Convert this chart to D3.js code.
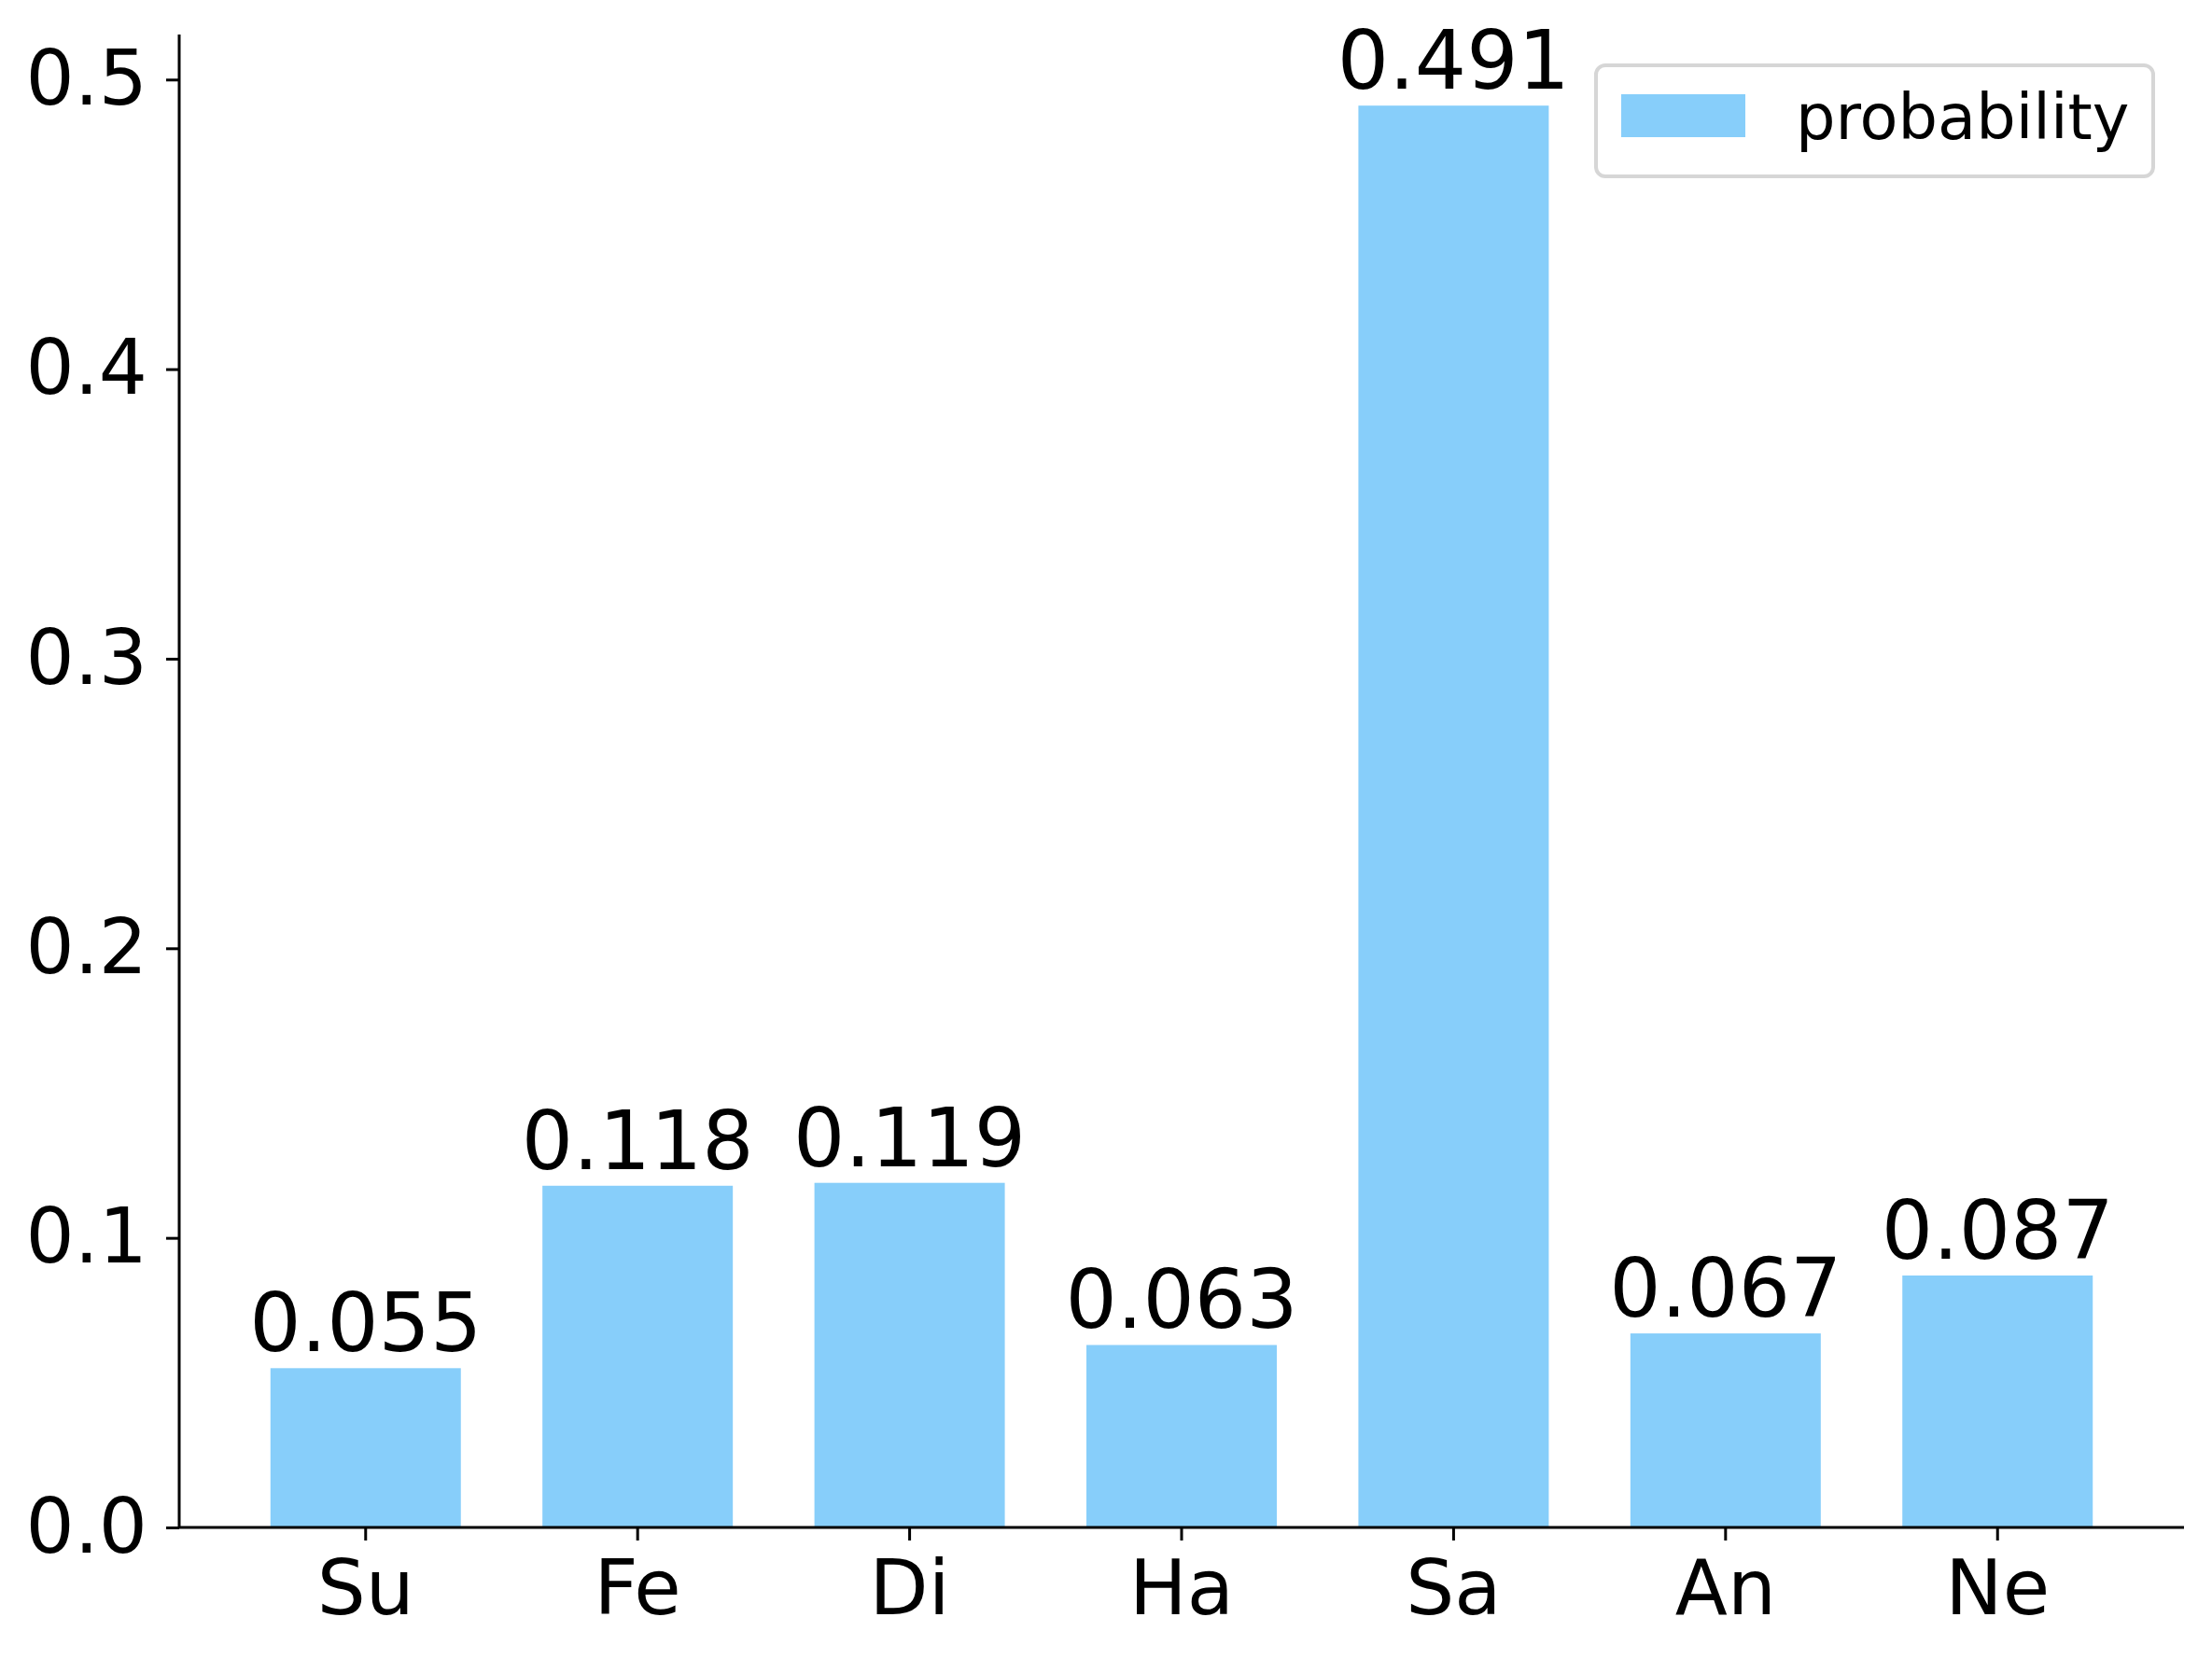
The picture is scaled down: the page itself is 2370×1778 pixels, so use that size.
<!DOCTYPE html>
<html><head><meta charset="utf-8">
<script src="https://cdn.jsdelivr.net/npm/d3@7"></script>
<style>body{margin:0;background:#fff}svg{display:block}text{font-family:"DejaVu Sans",sans-serif;fill:#000}</style>
</head><body>
<script>
const categories = ["Su","Fe","Di","Ha","Sa","An","Ne"];
const probability = [0.055,0.118,0.119,0.063,0.491,0.067,0.087];
const valueLabels = ["0.055","0.118","0.119","0.063","0.491","0.067","0.087"];
const yTicks = [0.0,0.1,0.2,0.3,0.4,0.5];
const seriesName = "probability";

const W=2370,H=1778;
const m={left:192,right:2340,top:37,bottom:1637};
const color="#87CEFA";
const svg=d3.select("body").append("svg").attr("width",W).attr("height",H);
const x=d3.scaleBand().domain(categories).range([m.left,m.right]).paddingInner(0.3).paddingOuter(0.3355);
const y=d3.scaleLinear().domain([0,d3.max(probability)*1.05]).range([m.bottom,m.top]);

svg.selectAll("rect.bar").data(probability).enter().append("rect").attr("class","bar")
 .attr("x",(d,i)=>x(categories[i])).attr("width",x.bandwidth())
 .attr("y",d=>y(d)).attr("height",d=>y(0)-y(d)).attr("fill",color);

svg.selectAll("text.val").data(probability).enter().append("text").attr("class","val")
 .attr("x",(d,i)=>x(categories[i])+x.bandwidth()/2).attr("y",d=>y(d)-18)
 .attr("text-anchor","middle").style("font-size","87px").text((d,i)=>valueLabels[i]);

const ya=svg.append("g").attr("transform",`translate(${m.left},0)`)
 .call(d3.axisLeft(y).tickValues(yTicks).tickFormat(d3.format(".1f")).tickSize(14).tickPadding(20));
const xa=svg.append("g").attr("transform",`translate(0,${m.bottom})`)
 .call(d3.axisBottom(x).tickSize(14).tickPadding(21));
[ya,xa].forEach(g=>{
 g.select(".domain").attr("stroke","#000").attr("stroke-width",3);
 g.selectAll(".tick line").attr("stroke","#000").attr("stroke-width",3);
 g.selectAll(".tick text").style("font-size","82px").attr("font-family",null);
});
ya.select(".domain").attr("d",`M0,${m.top}V${m.bottom}`);
xa.select(".domain").attr("d",`M${m.left},0H${m.right}`);

const lg=svg.append("g");
lg.append("rect").attr("x",1710).attr("y",70).attr("width",597).attr("height",119).attr("rx",10)
 .attr("fill","#fff").attr("stroke","#d6d6d6").attr("stroke-width",4);
lg.append("rect").attr("x",1737).attr("y",101).attr("width",133).attr("height",46).attr("fill",color);
lg.append("text").attr("x",1924).attr("y",149).style("font-size","67px").text(seriesName);
</script>
</body></html>
